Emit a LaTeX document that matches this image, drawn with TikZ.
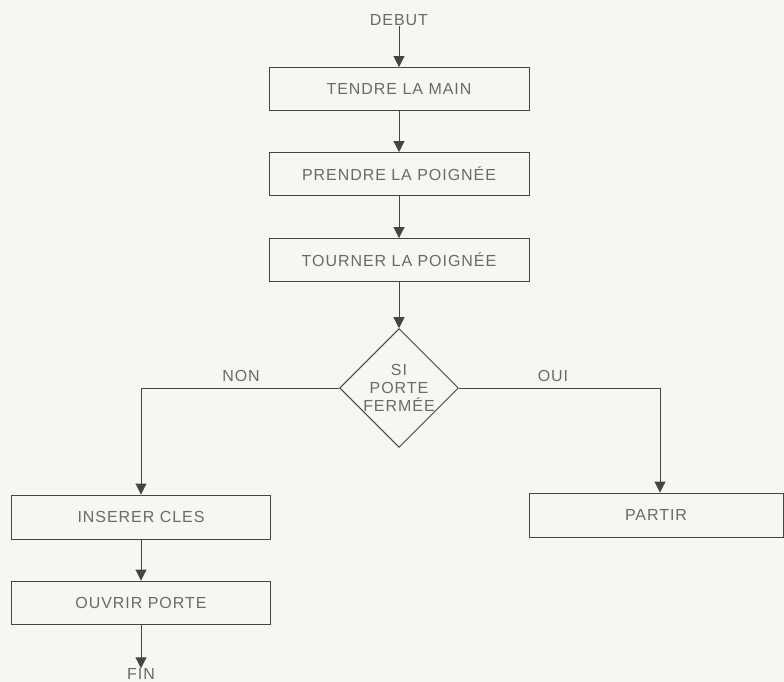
\documentclass[tikz,border=0pt]{standalone}
\usepackage{fontspec}
\setmainfont{Liberation Sans}[LetterSpace=6]
\usetikzlibrary{arrows.meta,shapes.geometric}
\definecolor{paper}{HTML}{F8F6F1}
\definecolor{ink}{HTML}{454545}
\definecolor{txt}{HTML}{6A6A6A}
\begin{document}
\begin{tikzpicture}[x=1pt,y=-1pt,
  every node/.style={font=\fontsize{16}{18}\selectfont, text=txt},
  stepbox/.style={draw=ink, line width=0.9pt, rectangle, inner sep=0pt, minimum width=260pt, minimum height=43pt},
  decision/.style={draw=ink, line width=0.9pt, diamond, inner sep=0pt, minimum width=118pt, minimum height=116pt, align=center},
  label/.style={inner sep=0pt},
  flow/.style={draw=ink, line width=0.9pt, -{Triangle[width=11pt,length=11pt]}},
  plain/.style={draw=ink, line width=0.9pt}]
\fill[paper] (0,0) rectangle (784,682);
\useasboundingbox (0,0) rectangle (784,682);
\node[label] (debut) at (399,20) {DEBUT};
\node[stepbox] (b1) at (399,89) {TENDRE LA MAIN};
\node[stepbox] (b2) at (399,174) {PRENDRE LA POIGNÉE};
\node[stepbox] (b3) at (399,260) {TOURNER LA POIGNÉE};
\node[decision] (d) at (399,388) {SI\\[0pt]PORTE\\[0pt]FERMÉE};
\node[label] (non) at (241,376) {NON};
\node[label] (oui) at (553,376) {OUI};
\node[stepbox, minimum width=259pt, minimum height=44pt] (ins) at (141,517) {INSERER CLES};
\node[stepbox, minimum width=259pt, minimum height=43pt] (ouv) at (141,602.5) {OUVRIR PORTE};
\node[stepbox, minimum width=254pt, minimum height=44pt] (par) at (656,515) {PARTIR};
\node[label] (fin) at (141,674) {FIN};
\coordinate (cl) at (141,388);
\coordinate (cr) at (660,388);
\draw[flow] (debut.south) -- (b1.north);
\draw[flow] (b1) -- (b2);
\draw[flow] (b2) -- (b3);
\draw[flow] (b3) -- (d.north);
\draw[plain] (d.west) -- (cl);
\draw[flow] (cl) -- (ins.north);
\draw[plain] (d.east) -- (cr);
\draw[flow] (cr) -- (cr |- par.north);
\draw[flow] (ins) -- (ouv);
\draw[flow] (ouv.south) -- (fin.north);
\end{tikzpicture}
\end{document}
